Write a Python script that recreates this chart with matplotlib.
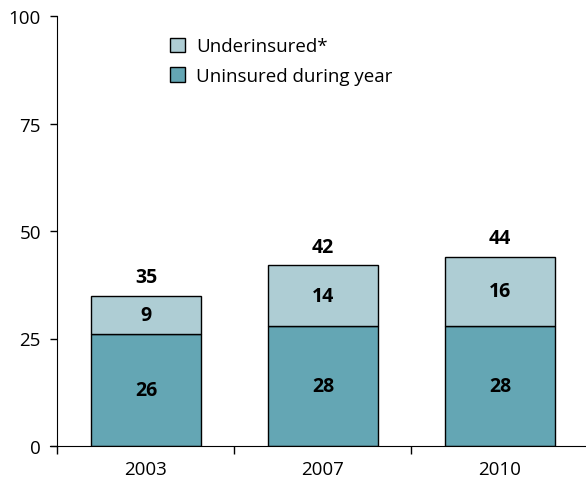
import matplotlib
matplotlib.use('Agg')
import matplotlib.pyplot as plt
from matplotlib.patches import Patch

years = ['2003', '2007', '2010']
uninsured = [26, 28, 28]
underinsured = [9, 14, 16]
totals = [35, 42, 44]

dark = '#64a6b4'
light = '#aecdd4'

plt.rcParams['font.family'] = ['Open Sans', 'DejaVu Sans']

fig = plt.figure(figsize=(5.86, 4.85), dpi=100)
ax = fig.add_axes([50.4 / 586, 38 / 485, 538 / 586, 430 / 485])

x = range(len(years))
ax.bar(x, uninsured, width=0.62, color=dark, edgecolor='black', linewidth=1)
ax.bar(x, underinsured, width=0.62, bottom=uninsured, color=light,
       edgecolor='black', linewidth=1)

for i in x:
    ax.text(i, uninsured[i] / 2, str(uninsured[i]), ha='center', va='center',
            fontsize=14, fontweight='bold')
    ax.text(i, uninsured[i] + underinsured[i] / 2, str(underinsured[i]),
            ha='center', va='center', fontsize=14, fontweight='bold')
    ax.text(i, totals[i] + 4.3, str(totals[i]), ha='center', va='center',
            fontsize=14, fontweight='bold')

ax.set_xlim(-0.54, 2.5)
ax.set_ylim(0, 100)
ax.set_yticks([0, 25, 50, 75, 100])
ax.set_xticks(list(x))
ax.set_xticklabels(years)
ax.set_xticks([-0.5, 0.5, 1.5], minor=True)
ax.tick_params(axis='x', which='major', length=0, pad=10, labelsize=13.5)
ax.tick_params(axis='x', which='minor', length=6, width=1, direction='out')
ax.tick_params(axis='y', length=5, width=1, pad=7, labelsize=13.5)

for s in ['top', 'right']:
    ax.spines[s].set_visible(False)
ax.spines['left'].set_position(('data', -0.5))

handles = [Patch(facecolor=light, edgecolor='black', label='Underinsured*'),
           Patch(facecolor=dark, edgecolor='black', label='Uninsured during year')]
ax.legend(handles=handles, loc='upper left', bbox_to_anchor=(0.208, 0.968),
          frameon=False, fontsize=13.5, handlelength=0.8, handleheight=0.8,
          handletextpad=0.6, labelspacing=0.62, borderaxespad=0)

fig.savefig('out.png', dpi=100)
